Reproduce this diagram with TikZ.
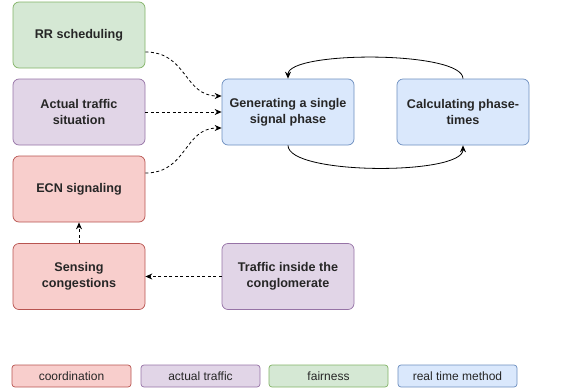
\documentclass[tikz,border=0pt]{standalone}
\usepackage{fontspec}
\setmainfont{Liberation Sans}
\usetikzlibrary{arrows.meta, positioning}
\definecolor{CoordFill}{HTML}{F8CECC}
\definecolor{CoordLine}{HTML}{B85450}
\definecolor{TrafficFill}{HTML}{E1D5E7}
\definecolor{TrafficLine}{HTML}{9673A6}
\definecolor{FairFill}{HTML}{D5E8D4}
\definecolor{FairLine}{HTML}{82B366}
\definecolor{TimeFill}{HTML}{DAE8FC}
\definecolor{TimeLine}{HTML}{6C8EBF}

\begin{document}
\begin{tikzpicture}[x=1pt, y=-1pt, >={Stealth[length=7pt, width=6pt]},
    box/.style={draw, rounded corners=6pt, line width=0.7pt, minimum width=132pt, minimum height=66pt,
        align=center, text=black!85, font=\fontsize{12.6}{16}\selectfont\bfseries},
    keybox/.style={draw, rounded corners=3pt, line width=0.7pt, minimum width=119pt, minimum height=22pt,
        text=black!85, font=\fontsize{12}{14}\selectfont},
    coordbox/.style={fill=CoordFill, draw=CoordLine},
    trafficbox/.style={fill=TrafficFill, draw=TrafficLine},
    fairbox/.style={fill=FairFill, draw=FairLine},
    timebox/.style={fill=TimeFill, draw=TimeLine},
    feed/.style={->, dashed, dash pattern=on 3pt off 2.5pt, line width=0.8pt},
    loop/.style={->, line width=0.8pt}]
    \def\lx{79} \def\mx{288} \def\rx{463}
    \useasboundingbox (0,0) rectangle (579,389);
    % Left column
    \node[box, fairbox] (rr) at (\lx, 35) {RR scheduling};
    \node[box, trafficbox] (actual) at (\lx, 112) {Actual traffic\\situation};
    \node[box, coordbox] (ecn) at (\lx, 189) {ECN signaling};
    \node[box, coordbox] (sensing) at (\lx, 276.5) {Sensing\\congestions};
    % Real time loop
    \node[box, timebox] (gen) at (\mx, 112) {Generating a single\\signal phase};
    \node[box, timebox] (calc) at (\rx, 112) {Calculating phase-\\times};
    \node[box, trafficbox] (inside) at (\mx, 276.5) {Traffic inside the\\conglomerate};
    % Inputs of the signal phase
    \draw[feed] ([yshift=-17pt]rr.east) .. controls +(42,0) and +(-38,0) .. ([yshift=16pt]gen.west);
    \draw[feed] (actual.east) -- (gen.west);
    \draw[feed] ([yshift=16pt]ecn.east) .. controls +(42,0) and +(-38,0) .. ([yshift=-16pt]gen.west);
    \draw[feed] (sensing.north) -- (ecn.south);
    \draw[feed] (inside.west) -- (sensing.east);
    % Loop
    \draw[loop] (gen.south) .. controls +(0,30) and +(0,30) .. (calc.south);
    \draw[loop] (calc.north) .. controls +(0,-28) and +(0,-28) .. (gen.north);
    % Legend
    \node[keybox, coordbox] (k1) at (71.5, 376) {coordination};
    \node[keybox, trafficbox] (k2) at (200.5, 376) {actual traffic};
    \node[keybox, fairbox] (k3) at (328.5, 376) {fairness};
    \node[keybox, timebox] (k4) at (457.5, 376) {real time method};
\end{tikzpicture}
\end{document}
